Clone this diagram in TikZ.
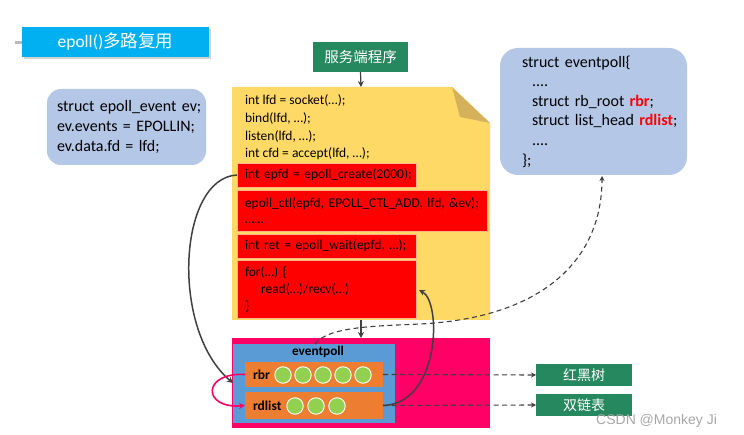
\documentclass[tikz,border=0pt]{standalone}
\usepackage{fontspec}
\setmainfont{Carlito}
\newfontfamily\cjk{Noto Sans CJK SC}
\newfontfamily\wmfont{Liberation Sans}
\usetikzlibrary{arrows.meta,shadows}
\definecolor{titlecyan}{HTML}{00B0F0}
\definecolor{paleblue}{HTML}{B4C7E7}
\definecolor{darkgreen}{RGB}{38,136,94}
\definecolor{noteyellow}{HTML}{FFD966}
\definecolor{foldtan}{HTML}{D4B15A}
\definecolor{redfill}{HTML}{FF0000}
\definecolor{redborder}{HTML}{F8B48A}
\definecolor{hotpink}{HTML}{FF0066}
\definecolor{midblue}{HTML}{5B9BD5}
\definecolor{boxorange}{HTML}{ED7D31}
\definecolor{dotgreen}{HTML}{92D050}
\definecolor{arrowgray}{HTML}{404040}
\newcommand{\padA}{\hspace*{8pt}}
\newcommand{\padB}{\hspace*{10pt}}
\newcommand{\padR}{\hspace*{22pt}}
\newcommand{\padS}{\hspace*{32pt}}
\begin{document}
\begin{tikzpicture}[x=1pt,y=-1pt,
  box/.style={inner sep=0pt, outer sep=0pt, anchor=north west},
  greenbox/.style={box, fill=darkgreen, text=white, font=\cjk\fontsize{14.5}{16}\selectfont, align=center},
  bluenote/.style={box, fill=paleblue, rounded corners=14pt, align=left, font=\fontsize{16}{19.6}\selectfont},
  redbox/.style={box, fill=redfill, draw=redborder, line width=0.7pt, align=left, font=\fontsize{13.5}{17.5}\selectfont},
  orangebox/.style={box, fill=boxorange, font=\bfseries\fontsize{13.5}{15}\selectfont, align=left},
  dot/.style={circle, fill=dotgreen, draw=white, line width=0.9pt, minimum size=16.5pt, inner sep=0pt},
  darkarrow/.style={draw=arrowgray, line width=1.5pt, -{Stealth[length=6pt,width=6pt]}},
  dasharrow/.style={draw=arrowgray, line width=1.1pt, dash pattern=on 5pt off 3.5pt, -{Stealth[length=5pt,width=5pt]}}
]
\useasboundingbox (0,0) rectangle (744,435);
% title
\draw[gray!55, line width=3pt] (15,43) -- (36,43);
\node[box, fill=titlecyan, minimum width=187pt, minimum height=30pt, text=white,
  drop shadow={shadow xshift=1.5pt, shadow yshift=-2.5pt, opacity=0.35, fill=gray},
  font=\fontsize{17.5}{19}\selectfont] (title) at (22,27) {epoll()\cjk 多路复用};
% left struct box
\node[bluenote, minimum width=159pt, minimum height=76pt, text width=159pt] (evbox) at (47,89)
  {\padB struct epoll\_event ev;\\\padB ev.events = EPOLLIN;\\\padB ev.data.fd = lfd;};
% right struct box
\node[bluenote, minimum width=187pt, minimum height=127pt, text width=187pt, rounded corners=18pt] (epstruct) at (500,48)
  {\padR struct eventpoll\{\\
   \padS ....\\
   \padS struct rb\_root {\color{red}\bfseries rbr};\\
   \padS struct list\_head {\color{red}\bfseries rdlist};\\
   \padS ....\\
   \padR \};};
% server title
\node[greenbox, minimum width=95pt, minimum height=30pt] (server) at (313,42) {服务端程序};
% yellow note
\fill[noteyellow] (232,87) -- (452,87) -- (490,123) -- (490,320) -- (232,320) -- cycle;
\fill[foldtan] (452,87) -- (460,117) -- (490,123) -- cycle;
\coordinate (ntop) at (361,87);
\coordinate (nbot) at (361,320);
\node[box, align=left, font=\fontsize{13.5}{17.7}\selectfont] (code) at (245,95)
  {int lfd = socket(…);\\bind(lfd, …);\\listen(lfd, …);\\int cfd = accept(lfd, …);};
\node[redbox, minimum width=179pt, minimum height=24pt, text width=179pt] (create) at (237,163)
  {\padA int epfd = epoll\_create(2000);};
\node[redbox, minimum width=250pt, minimum height=41pt, text width=250pt] (ctl) at (237,190)
  {\padA epoll\_ctl(epfd, EPOLL\_CTL\_ADD, lfd, \&ev);\\[-2pt]\padA ……};
\node[redbox, minimum width=179pt, minimum height=24pt, text width=179pt] (wait) at (237,234)
  {\padA int ret = epoll\_wait(epfd, …);};
\node[redbox, minimum width=179pt, minimum height=58pt, text width=179pt, font=\fontsize{13.5}{17}\selectfont] (forbox) at (237,260)
  {\padA for(…) \{\\\padA\hspace*{16pt}read(…)/recv(…)\\\padA\}};
% kernel area
\node[box, fill=hotpink, minimum width=258pt, minimum height=90pt] (mag) at (232,338) {};
\node[box, fill=midblue, minimum width=162pt, minimum height=79pt] (evp) at (233,344) {};
\node[inner sep=0pt, font=\bfseries\fontsize{13.3}{14}\selectfont] (evplabel) at (318,352) {eventpoll};
\node[orangebox, minimum width=138pt, minimum height=25pt, text width=138pt] (rbr) at (245,362) {\padA rbr};
\node[orangebox, minimum width=138pt, minimum height=27pt, text width=138pt] (rdl) at (245,392) {\padA rdlist};
\foreach \i/\x in {1/283,2/303,3/323,4/343,5/363} \node[dot] (r\i) at (\x,375) {};
\foreach \i/\x in {1/295,2/316,3/337} \node[dot] (d\i) at (\x,406) {};
% right green boxes
\node[greenbox, minimum width=96pt, minimum height=22pt, font=\cjk\fontsize{14}{16}\selectfont] (rbt) at (536,364) {红黑树};
\node[greenbox, minimum width=96pt, minimum height=22pt, font=\cjk\fontsize{14}{16}\selectfont] (dll) at (536,394) {双链表};
% arrows
\draw[darkarrow, line width=1.2pt] (server.south) -- (ntop);
\draw[darkarrow, line width=1.2pt] (nbot) -- (mag.north);
\coordinate (tipA) at (233,383);
\draw[darkarrow] (create.west) .. controls (178,178) and (170,330) .. (tipA);
\coordinate (tipB) at (419,290);
\draw[darkarrow] (rdl.east) .. controls (440,404) and (442,302) .. (tipB);
\draw[draw=hotpink, line width=1.6pt, -{Stealth[length=6pt,width=6pt]}] (rbr.west) .. controls (202,372) and (202,409) .. (rdl.west);
\draw[dasharrow] (rbr.east) -- (rbt.west);
\draw[dasharrow] (rdl.east) -- (dll.west);
\coordinate (dstart) at (315,344);
\coordinate (dend) at (602,176);
\draw[dasharrow] (dstart) .. controls (328,326) and (380,326) .. (420,324) .. controls (540,318) and (602,262) .. (dend);
% watermark
\node[anchor=west, inner sep=0pt, text=gray!70, font=\wmfont\fontsize{14}{16}\selectfont] (wm) at (596,421) {CSDN @Monkey Ji};
\end{tikzpicture}
\end{document}
